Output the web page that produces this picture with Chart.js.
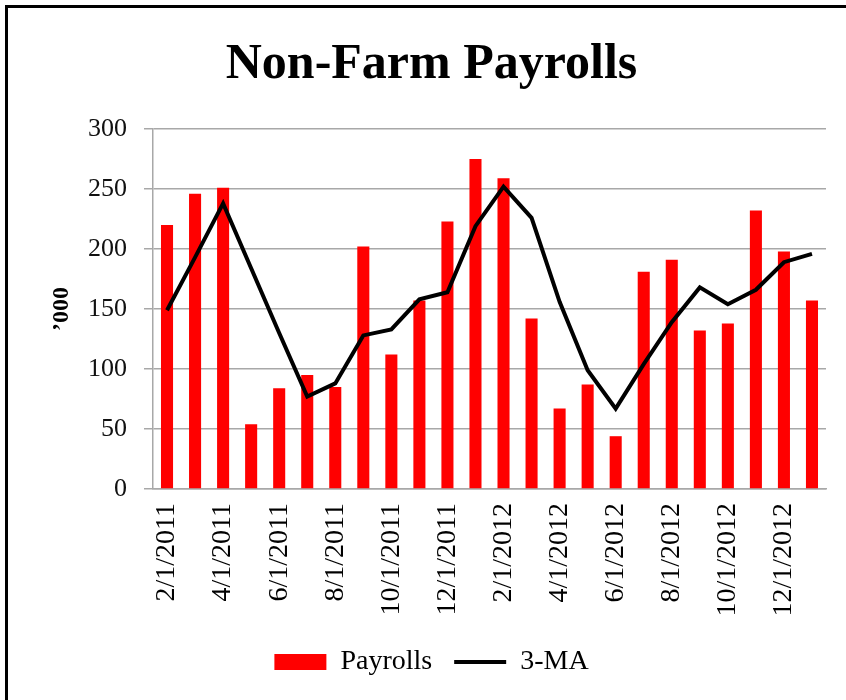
<!DOCTYPE html>
<html>
<head>
<meta charset="utf-8">
<title>Non-Farm Payrolls</title>
<script src="https://cdn.jsdelivr.net/npm/chart.js@4.4.1/dist/chart.umd.min.js"></script>
<style>
  body { margin: 0; background: #fff; }
  #wrap { position: relative; width: 846px; height: 700px; }
  #frame { position: absolute; left: 5px; top: 5px; right: 0; bottom: 0;
           border-left: 3px solid #000; border-top: 3px solid #000; pointer-events: none; }
  #mycanvas { position: absolute; left: 0; top: 0; }
</style>
</head>
<body>
<div id="wrap">
  <canvas id="mycanvas" width="846" height="700"></canvas>
  <div id="frame"></div>
</div>
<script>
// months, Feb 2011 .. Jan 2013
var months = ['2/1/2011', '3/1/2011', '4/1/2011', '5/1/2011', '6/1/2011', '7/1/2011',
  '8/1/2011', '9/1/2011', '10/1/2011', '11/1/2011', '12/1/2011', '1/1/2012',
  '2/1/2012', '3/1/2012', '4/1/2012', '5/1/2012', '6/1/2012', '7/1/2012',
  '8/1/2012', '9/1/2012', '10/1/2012', '11/1/2012', '12/1/2012', '1/1/2013'];

var payrolls = [220, 246, 251, 54, 84, 95, 85, 202, 112, 157, 223, 275,
  259, 142, 67, 87, 44, 181, 191, 132, 138, 232, 198, 157];

var ma3 = [149, 193, 238, 184, 130, 77, 88, 128, 133, 158, 164, 219,
  252, 226, 156, 99, 67, 104, 139, 168, 154, 166, 189, 196];

var yTicks = [0, 50, 100, 150, 200, 250, 300];

var serif = "'Liberation Serif', 'Times New Roman', serif";
var gridGray = '#a8a8a8';

var chartdata = {
  labels: months,
  datasets: [
    {
      type: 'bar',
      label: 'Payrolls',
      data: payrolls,
      backgroundColor: '#ff0000',
      borderWidth: 0,
      pointStyle: 'rect',
      categoryPercentage: 1.0,
      barPercentage: 0.43,
      order: 1
    },
    {
      type: 'line',
      label: '3-MA',
      data: ma3,
      borderColor: '#000000',
      backgroundColor: '#000000',
      borderWidth: 4,
      tension: 0,
      pointRadius: 0,
      pointStyle: 'line',
      order: 0
    }
  ]
};

var ctx = document.getElementById('mycanvas');

var chart = new Chart(ctx, {
  data: chartdata,
  options: {
    responsive: false,
    animation: false,
    devicePixelRatio: 1,
    layout: { padding: { left: 37, right: 20, top: 0, bottom: 14 } },
    plugins: {
      tooltip: { enabled: false },
      title: {
        display: true,
        text: 'Non-Farm Payrolls',
        color: '#000',
        font: { family: serif, size: 50, weight: 'bold' },
        padding: { top: 35.5, bottom: 33.5 }
      },
      legend: {
        position: 'bottom',
        labels: {
          usePointStyle: true,
          pointStyleWidth: 52,
          boxHeight: 16,
          padding: 22,
          color: '#000',
          font: { family: serif, size: 28 },
          sort: function(a, b) { return a.datasetIndex - b.datasetIndex; }
        }
      }
    },
    scales: {
      x: {
        offset: true,
        grid: { display: false, drawTicks: false, tickLength: 0 },
        border: { display: true, color: gridGray, width: 1.5 },
        ticks: {
          autoSkip: false,
          minRotation: 90,
          maxRotation: 90,
          padding: 14,
          color: '#000',
          font: { family: serif, size: 28 },
          callback: function(value, index) {
            return index % 2 === 0 ? this.getLabelForValue(value) : '';
          }
        },
        afterFit: function(scale) {
          scale.height = 137;
          scale.paddingLeft = 0;
          scale.paddingRight = 0;
        }
      },
      y: {
        min: 0,
        max: 300,
        afterBuildTicks: function(scale) {
          scale.ticks = yTicks.map(function(v) { return { value: v }; });
        },
        grid: { color: gridGray, lineWidth: 1.5, tickLength: 9 },
        border: { display: true, color: gridGray, width: 1.5 },
        ticks: {
          padding: 17,
          color: '#111',
          font: { family: serif, size: 26 }
        },
        title: {
          display: true,
          text: '\u2019000',
          color: '#000',
          font: { family: serif, size: 24, weight: 'bold' },
          padding: { top: 10.6, bottom: 0 }
        },
        afterFit: function(scale) { scale.width = 116; }
      }
    }
  }
});
</script>
</body>
</html>
